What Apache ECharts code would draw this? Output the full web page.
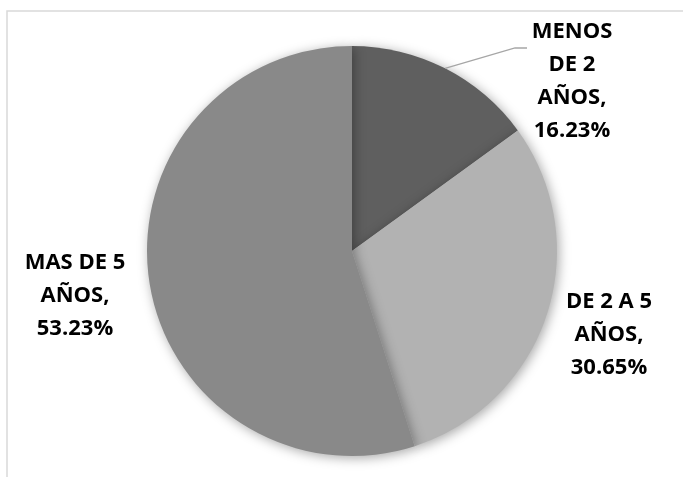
<!DOCTYPE html>
<html><head><meta charset="utf-8">
<script src="https://cdn.jsdelivr.net/npm/echarts@6/dist/echarts.min.js"></script>
<style>html,body{margin:0;padding:0;background:#fff}#c{width:683px;height:477px}</style>
</head><body><div id="c"></div>
<script>
const categories = ['MENOS\nDE 2\nAÑOS', 'DE 2 A 5\nAÑOS', 'MAS DE 5\nAÑOS'];
// slice sizes as drawn in the picture
const sliceValues = [15.0, 30.05, 54.95];
// percentages printed on the labels
const labelPercents = ['16.23%', '30.65%', '53.23%'];
const colors = ['#5f5f5f', '#b2b2b2', '#898989'];
const labelCenters = [[572, 81], [609, 335], [75, 296]];

const CX = 352, CY = 251, R = 205;
const total = sliceValues.reduce((a, b) => a + b, 0);
const midAng = (sliceValues[0] / 2 / total) * 2 * Math.PI;
const edge = [CX + R * Math.sin(midAng), CY - R * Math.cos(midAng)];

const chart = echarts.init(document.getElementById('c'));
chart.setOption({
  animation: false,
  graphic: [{
    type: 'rect', shape: {x: 7, y: 11, width: 700, height: 500},
    style: {fill: 'none', stroke: '#d9d9d9', lineWidth: 1.5}, silent: true, z: -1
  }, {
    type: 'polyline', shape: {points: [edge, [515, 48], [527, 48]]},
    style: {fill: 'none', stroke: '#a6a6a6', lineWidth: 1.3}, silent: true, z: 10
  }],
  series: [{
    type: 'pie',
    center: [CX, CY],
    radius: [0, R],
    startAngle: 90,
    clockwise: true,
    data: categories.map((c, i) => ({
      name: c, value: sliceValues[i],
      itemStyle: {color: colors[i]}
    })),
    itemStyle: {shadowBlur: 12, shadowColor: 'rgba(0,0,0,0.35)', shadowOffsetX: 2, shadowOffsetY: 2},
    label: {
      show: true, position: 'outside', overflow: 'none',
      formatter: p => p.name + ',\n' + labelPercents[p.dataIndex],
      fontFamily: 'Open Sans', fontWeight: 'bold', fontSize: 22, color: '#000',
      lineHeight: 33, align: 'center'
    },
    labelLine: {show: false},
    labelLayout: p => {
      const c = labelCenters[p.dataIndex];
      return {x: c[0], y: c[1], align: 'center', verticalAlign: 'middle'};
    }
  }]
});
</script></body></html>
